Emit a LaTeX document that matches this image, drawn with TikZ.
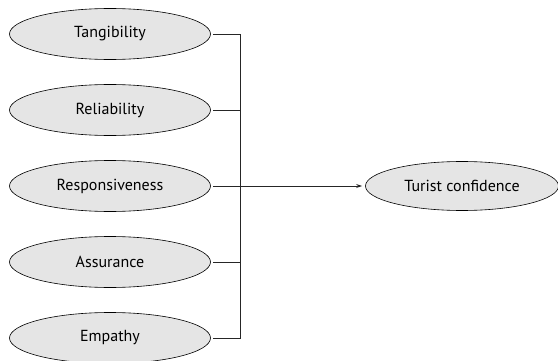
\documentclass[tikz,border=0pt]{standalone}
\usepackage{fontspec}
\setmainfont{PT Sans}
\usetikzlibrary{shapes.geometric,arrows.meta}
\begin{document}
\begin{tikzpicture}[x=1pt,y=1pt,
  factor/.style={ellipse,draw=black,fill=black!10,line width=0.6pt,minimum width=201pt,minimum height=51pt,inner sep=0pt,font=\fontsize{16}{19}\selectfont},
  link/.style={draw=black!85,line width=0.8pt}]
\useasboundingbox (0,0) rectangle (558,360);
\node[factor] (t) at (110,326) {Tangibility};
\node[factor] (r) at (110,250) {Reliability};
\node[factor] (s) at (110,174) {Responsiveness};
\node[factor] (a) at (110,98) {Assurance};
\node[factor] (e) at (110,22) {Empathy};
\node[factor,minimum width=193pt,minimum height=49pt] (c) at (462,174) {Turist confidence};
\coordinate (jt) at (240,326);
\coordinate (je) at (240,22);
\draw[link] ([xshift=2pt]t.east) -- (jt) -- (je) -- ([xshift=2pt]e.east);
\draw[link] ([xshift=2pt]r.east) -- (r.east -| jt);
\draw[link] ([xshift=2pt]a.east) -- (a.east -| jt);
\draw[link,-{Stealth[length=6pt,width=4pt]}] ([xshift=2pt]s.east) -- ([xshift=-3pt]c.west);
\end{tikzpicture}
\end{document}
